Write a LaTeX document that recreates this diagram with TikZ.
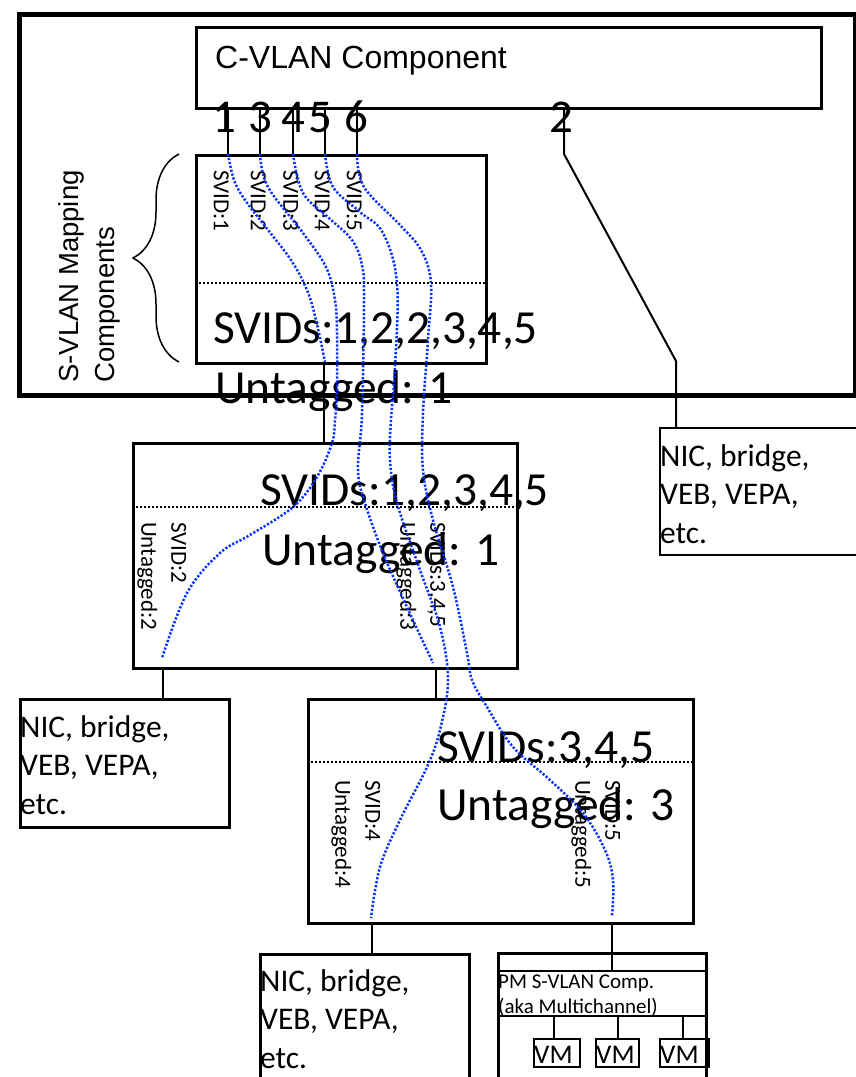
\documentclass[tikz,border=0pt]{standalone}
\usepackage{fontspec}
\newfontfamily\carl{Carlito}
\newfontfamily\arl{Liberation Sans}
\usetikzlibrary{decorations.pathreplacing}
\definecolor{flowblue}{RGB}{10,50,255}
\tikzset{
  box/.style={draw=black, line width=2.5pt, inner sep=0pt, anchor=north west, fill=none},
  thinbox/.style={draw=black, line width=2pt, inner sep=0pt, anchor=north west},
  wire/.style={draw=black, line width=2pt},
  sepline/.style={draw=black, line width=2pt, dash pattern=on 2pt off 2pt},
  flow/.style={draw=flowblue, line width=2.5pt, dash pattern=on 2.2pt off 1.8pt},
  bigtxt/.style={font=\carl\fontsize{47.5}{50}\selectfont, inner sep=0pt, anchor=base west},
  porttxt/.style={font=\carl\fontsize{47}{50}\selectfont, inner sep=0pt, anchor=base},
  nictxt/.style={font=\carl\fontsize{31.5}{38.5}\selectfont, inner sep=0pt, align=left, anchor=base west},
  rottxt/.style={font=\carl\fontsize{23}{30}\selectfont, inner sep=0pt, align=left, rotate=-90, anchor=north west},
  pmtxt/.style={font=\carl\fontsize{21}{25}\selectfont, inner sep=0pt, anchor=base west},
  vmtxt/.style={font=\carl\fontsize{27}{28}\selectfont, inner sep=0pt, anchor=base west},
}
\begin{document}
\begin{tikzpicture}[x=1pt,y=-1pt]
\useasboundingbox (0,0) rectangle (855,1077);

% outer frame
\node[draw=black, line width=5pt, inner sep=0pt, anchor=north west,
      minimum width=836pt, minimum height=381pt] (frame) at (17,12) {};

% C-VLAN component
\node[box, line width=3pt, minimum width=625pt, minimum height=81pt] (cvlan) at (195,26) {};
\node[font=\arl\fontsize{32}{36}\selectfont, inner sep=0pt, anchor=base west] (cvlantxt) at (215,68) {C-VLAN Component};

% S-VLAN mapping box
\node[box, line width=3pt, minimum width=290pt, minimum height=208pt] (map) at (195,154) {};
\coordinate (mapsepL) at (195,283);
\coordinate (mapsepR) at (485,283);
\draw[sepline] (mapsepL) -- (mapsepR);

% brace and label
\coordinate (brB) at (179,362);
\coordinate (brT) at (179,154);
\draw[line width=1.5pt, decorate, decoration={brace, amplitude=46pt}] (brB) -- (brT);
\node[font=\arl\fontsize{27.5}{36}\selectfont, inner sep=0pt, align=left, rotate=90, anchor=north west] (maplbl) at (58,383) {S-VLAN Mapping\\Components};

% port lines
\coordinate (t1) at (228,107); \coordinate (b1) at (228,154);
\coordinate (t3) at (260,107); \coordinate (b3) at (260,154);
\coordinate (t4) at (293,107); \coordinate (b4) at (293,154);
\coordinate (t5) at (325,107); \coordinate (b5) at (325,154);
\coordinate (t6) at (357,107); \coordinate (b6) at (357,154);
\foreach \p in {1,3,4,5,6} { \draw[wire] (t\p) -- (b\p); }
\coordinate (t2) at (564,107);
\coordinate (k2a) at (564,154);
\coordinate (k2b) at (676,361);

% port numbers
\node[porttxt] (n1) at (224,132) {1};
\node[porttxt] (n3) at (260,132) {3};
\node[porttxt] (n4) at (293,132) {4};
\node[porttxt] (n5) at (320,132) {5};
\node[porttxt] (n6) at (356,132) {6};
\node[porttxt] (n2) at (561,132) {2};

% right NIC
\node[thinbox, minimum width=210pt, minimum height=127pt] (nicR) at (659,427) {};
\coordinate (nicRtop) at (676,427);
\draw[wire] (t2) -- (k2a) -- (k2b) -- (nicRtop);
\node[nictxt] (nicRtxt) at (660,543) {NIC, bridge,\\VEB, VEPA,\\etc.};

% middle box
\node[box, minimum width=384pt, minimum height=225pt] (midbox) at (132,442) {};
\draw[sepline] (132,507) -- (516,507);
\coordinate (mapout) at (324,362);
\coordinate (midin) at (324,442);
\draw[wire] (mapout) -- (midin);

% left NIC
\node[box, minimum width=209pt, minimum height=128pt] (nicL) at (19,698) {};
\coordinate (midoutL) at (163,667);
\coordinate (nicLtop) at (163,698);
\draw[wire] (midoutL) -- (nicLtop);
\node[nictxt] (nicLtxt) at (20,814) {NIC, bridge,\\VEB, VEPA,\\etc.};

% lower box
\node[box, minimum width=385pt, minimum height=224pt] (lowbox) at (307,698) {};
\draw[sepline] (307,762) -- (692,762);
\coordinate (midoutR) at (436,667);
\coordinate (lowin) at (436,698);
\draw[wire] (midoutR) -- (lowin);

% lower-middle NIC
\node[box, minimum width=209pt, minimum height=140pt] (nicM) at (259,953) {};
\coordinate (lowoutL) at (372,922);
\coordinate (nicMtop) at (372,953);
\draw[wire] (lowoutL) -- (nicMtop);
\node[nictxt] (nicMtxt) at (260,1068) {NIC, bridge,\\VEB, VEPA,\\etc.};

% PM S-VLAN component
\node[box, minimum width=208pt, minimum height=140pt] (pm) at (497,952) {};
\draw[wire] (497,971) -- (705,971);
\draw[wire] (497,1016) -- (705,1016);
\coordinate (lowoutR) at (612,922);
\coordinate (pmin) at (612,971);
\draw[wire] (lowoutR) -- (pmin);
\node[pmtxt] (pmt1) at (498,988) {PM S-VLAN Comp.};
\node[pmtxt] (pmt2) at (498,1013) {(aka Multichannel)};

% VMs
\node[thinbox, minimum width=46pt, minimum height=28pt] (vm1) at (533,1038) {};
\node[thinbox, minimum width=43pt, minimum height=28pt] (vm2) at (595,1038) {};
\node[thinbox, minimum width=49pt, minimum height=28pt] (vm3) at (659,1038) {};
\draw[wire] (554,1016) -- (554,1038);
\draw[wire] (618,1016) -- (618,1038);
\draw[wire] (683,1016) -- (683,1038);
\node[vmtxt] (vm1t) at (534,1063) {VM};
\node[vmtxt] (vm2t) at (596,1063) {VM};
\node[vmtxt] (vm3t) at (660,1063) {VM};

% big labels
\node[bigtxt] (mapsv) at (213,343) {SVIDs:1,2,2,3,4,5};
\node[bigtxt] (mapun) at (215,403) {Untagged: 1};
\node[bigtxt] (midsv) at (260,505) {SVIDs:1,2,3,4,5};
\node[bigtxt] (midun) at (262,565) {Untagged: 1};
\node[bigtxt] (lowsv) at (437,762) {SVIDs:3,4,5};
\node[bigtxt] (lowun) at (437,820) {Untagged: 3};

% rotated small labels
\node[rottxt] (sv1) at (229,170) {SVID:1};
\node[rottxt] (sv2) at (266,170) {SVID:2};
\node[rottxt] (sv3) at (298.5,170) {SVID:3};
\node[rottxt] (sv4) at (330,170) {SVID:4};
\node[rottxt] (sv5) at (362,170) {SVID:5};
\node[rottxt] (ml) at (186.5,522) {SVID:2\\Untagged:2};
\node[rottxt] (mr) at (445.5,522) {SVIDs:3,4,5\\Untagged:3};
\node[rottxt] (ll) at (380.5,780) {SVID:4\\Untagged:4};
\node[rottxt] (lr) at (620.5,780) {SVID:5\\Untagged:5};

% flows
\coordinate (e1) at (325,362);
\coordinate (e3) at (162,658);
\coordinate (e4) at (433,663);
\coordinate (e5) at (371,918);
\coordinate (e6) at (612,917);
\draw[flow] plot[smooth, tension=0.6] coordinates {(b1) (234,180) (245,200) (268,230) (291,260) (307,290) (316,320) (e1)};
\draw[flow] plot[smooth, tension=0.6] coordinates {(b3) (268,187) (303,233) (326,267) (335,300) (337,333) (337,390) (335,420) (332,443) (317,477) (293,507) (250,535) (220,553) (187,593) (e3)};
\draw[flow] plot[smooth, tension=0.6] coordinates {(b4) (303,193) (330,219) (352,240) (362,265) (364,300) (362,413) (358,470) (365,503) (383,553) (407,607) (e4)};
\draw[flow] plot[smooth, tension=0.6] coordinates {(b5) (333,187) (360,212) (383,233) (397,283) (395,367) (391,420) (390,460) (397,503) (420,570) (440,627) (448,680) (440,730) (427,767) (400,820) (380,867) (e5)};
\draw[flow] plot[smooth, tension=0.6] coordinates {(b6) (364,187) (400,225) (421,250) (431,283) (428,340) (423,413) (423,470) (433,520) (453,587) (467,653) (472,680) (487,707) (513,747) (550,780) (583,813) (605,850) (613,880) (e6)};
\end{tikzpicture}
\end{document}
